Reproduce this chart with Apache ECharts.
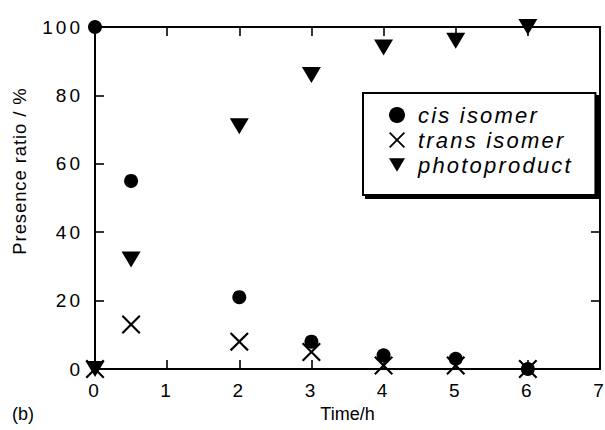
<!DOCTYPE html>
<html>
<head>
<meta charset="utf-8">
<script src="https://cdn.jsdelivr.net/npm/echarts@6/dist/echarts.min.js"></script>
<style>
  html, body { margin: 0; padding: 0; background: #fff; }
  #chart { width: 605px; height: 430px; }
  /* widen the tick numbers, the legend entries and the y title a little */
  #chart text[style*="19px"], #chart text[font-size="19"], #chart text[font-size="19px"] { letter-spacing: 3px; }
  #chart text[style*="italic"], #chart text[font-style="italic"] { letter-spacing: 2.2px; }
  #chart text[style*="18.5px"], #chart text[font-size="18.5"], #chart text[font-size="18.5px"] { letter-spacing: 0.9px; }
</style>
</head>
<body>
<div id="chart"></div>
<script>
// Irradiation time (h)
const timeH = [0, 0.5, 2, 3, 4, 5, 6];
// Presence ratio (%) of each species
const cisIsomer = [100, 55, 21, 8, 4, 3, 0];
const transIsomer = [0, 13, 8, 5, 1, 1, 0];
const photoproduct = [0, 32, 71, 86, 94, 96, 100];

const seriesNames = ['cis isomer', 'trans isomer', 'photoproduct'];
const xTicks = { min: 0, max: 7, step: 1 };
const yTicks = { min: 0, max: 100, step: 20 };

const FONT = '"Liberation Sans", Arial, Helvetica, sans-serif';
const CROSS = 'path://M0,8 L8,0 L50,42 L92,0 L100,8 L58,50 L100,92 L92,100 L50,58 L8,100 L0,92 L42,50 Z';
const DOWN_TRI = 'path://M0,0 L100,0 L50,85 Z';

const pairs = ys => timeH.map((t, i) => [t, ys[i]]);

const axisLine = { show: true, onZero: false, lineStyle: { color: '#000', width: 2 } };
const axisTick = { show: true, inside: true, length: 9, lineStyle: { color: '#000', width: 1.6 } };
const markStyle = { color: '#000', opacity: 1 };

const chart = echarts.init(document.getElementById('chart'), null, { renderer: 'svg' });

chart.setOption({
  animation: false,
  backgroundColor: '#fff',
  textStyle: { fontFamily: FONT, color: '#000' },
  grid: { left: 95, right: 5, top: 27, bottom: 61, containLabel: false, outerBoundsMode: 'none' },
  xAxis: [
    {
      type: 'value', position: 'bottom',
      min: xTicks.min, max: xTicks.max, interval: xTicks.step,
      axisLine, axisTick,
      splitLine: { show: false },
      axisLabel: { fontSize: 19, color: '#000', margin: 12, fontFamily: FONT },
      name: 'Time/h', nameLocation: 'middle', nameGap: 32,
      nameTextStyle: { fontSize: 18, color: '#000', fontFamily: FONT }
    },
    {
      type: 'value', position: 'top',
      min: xTicks.min, max: xTicks.max, interval: xTicks.step,
      axisLine, axisTick,
      splitLine: { show: false },
      axisLabel: { show: false }
    }
  ],
  yAxis: [
    {
      type: 'value', position: 'left',
      min: yTicks.min, max: yTicks.max, interval: yTicks.step,
      axisLine, axisTick,
      splitLine: { show: false },
      axisLabel: { fontSize: 19, color: '#000', margin: 12, fontFamily: FONT }
    },
    {
      type: 'value', position: 'right',
      min: yTicks.min, max: yTicks.max, interval: yTicks.step,
      axisLine, axisTick,
      splitLine: { show: false },
      axisLabel: { show: false }
    }
  ],
  legend: {
    orient: 'vertical',
    left: 363, top: 93,
    padding: [11, 49, 19, 26],
    itemWidth: 16, itemHeight: 16, itemGap: 3,
    backgroundColor: '#fff',
    borderColor: '#000', borderWidth: 2,
    shadowColor: '#000', shadowBlur: 0, shadowOffsetX: 3, shadowOffsetY: 3,
    textStyle: { fontSize: 22, fontStyle: 'italic', color: '#000', fontFamily: FONT, padding: [0, 0, 0, 8] },
    data: seriesNames
  },
  graphic: [
    {
      type: 'text', x: 19, y: 171, rotation: Math.PI / 2,
      style: { text: 'Presence ratio / %', fontSize: 18.5, fontFamily: FONT, fill: '#000', align: 'center', verticalAlign: 'middle' }
    },
    {
      type: 'text', left: 12, top: 405,
      style: { text: '(b)', fontSize: 18, fontFamily: FONT, fill: '#000' }
    }
  ],
  series: [
    {
      name: seriesNames[0], type: 'scatter', data: pairs(cisIsomer),
      symbol: 'circle', symbolSize: 14,
      itemStyle: markStyle, z: 3
    },
    {
      name: seriesNames[1], type: 'scatter', data: pairs(transIsomer),
      symbol: CROSS, symbolSize: 19,
      itemStyle: markStyle, z: 2
    },
    {
      name: seriesNames[2], type: 'scatter', data: pairs(photoproduct),
      symbol: DOWN_TRI, symbolSize: [19, 16],
      itemStyle: markStyle, z: 4
    }
  ]
});
</script>
</body>
</html>
